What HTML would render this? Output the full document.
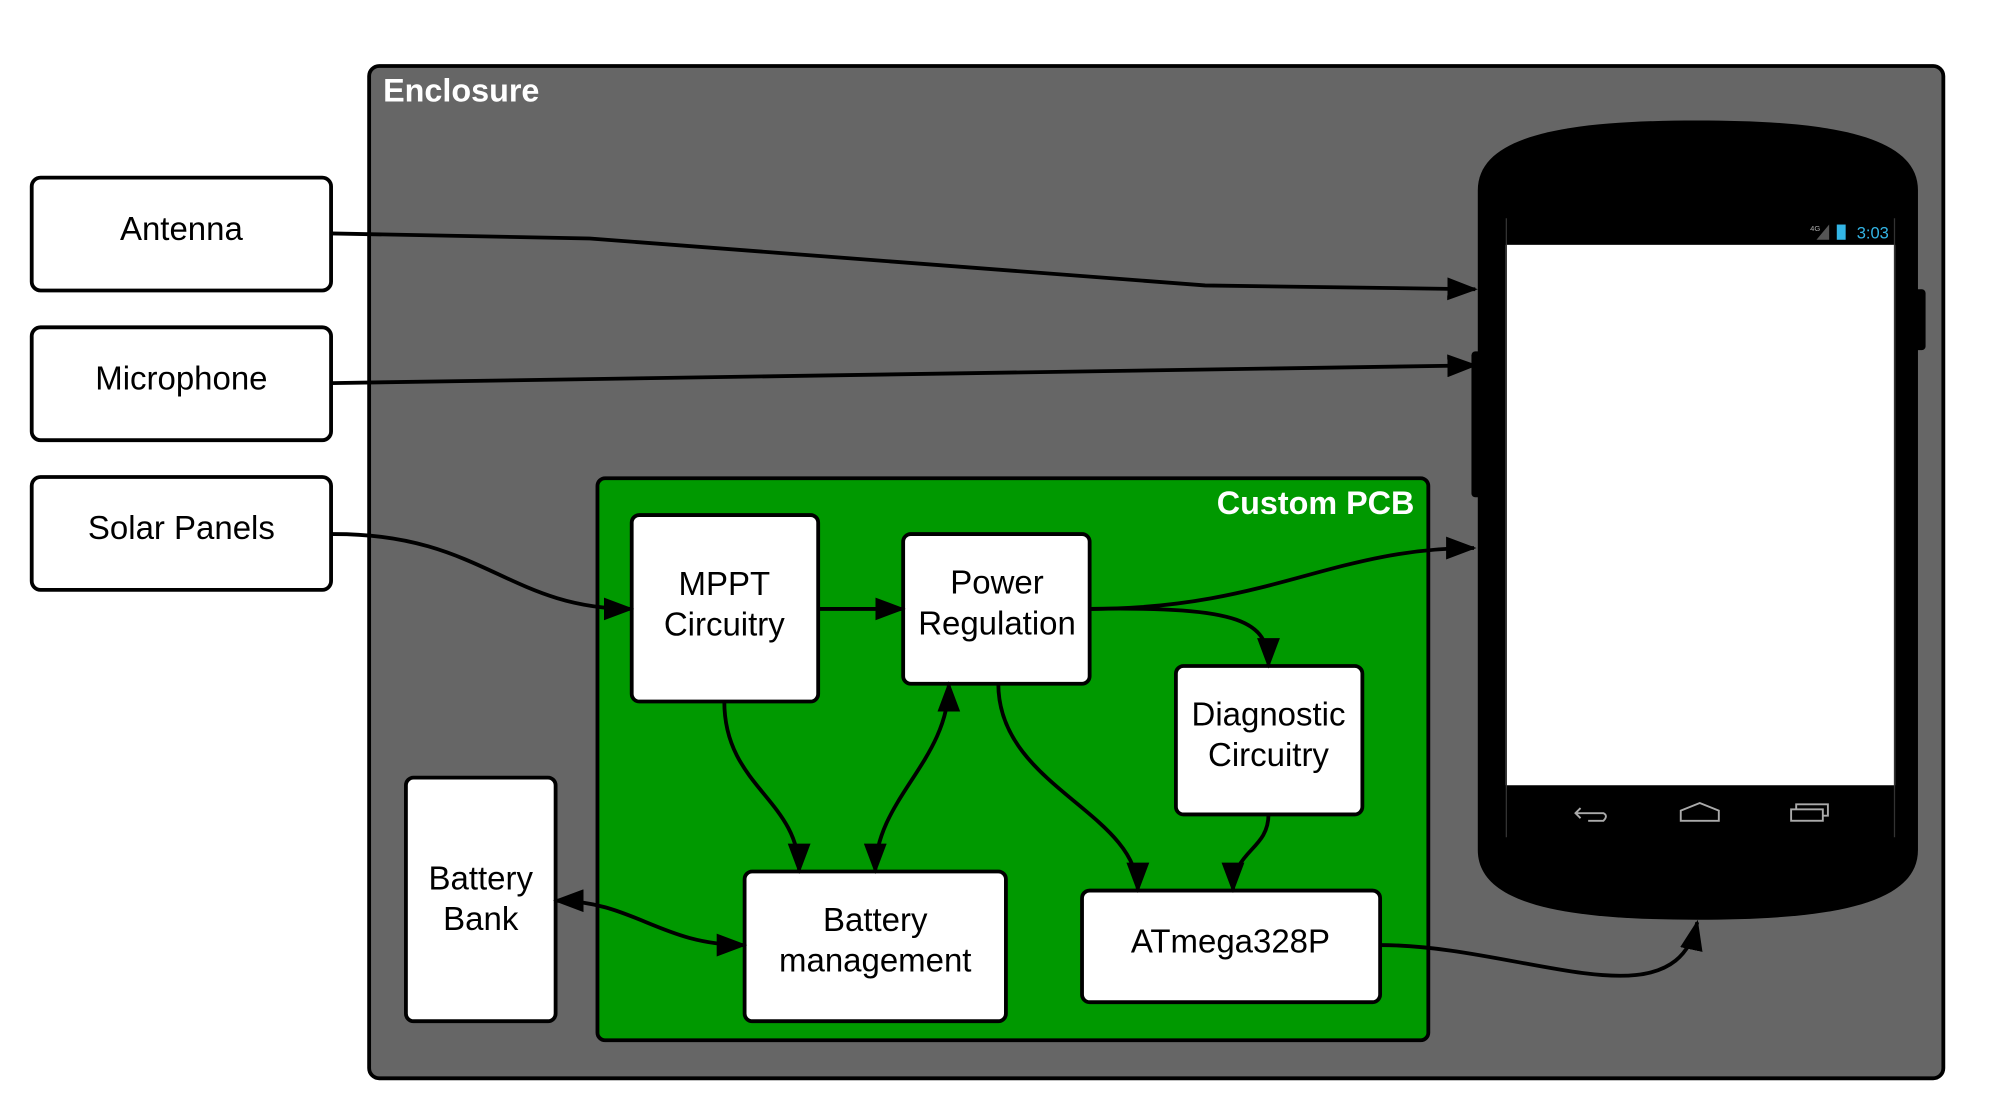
<!DOCTYPE html>
<html><head><style>html,body{margin:0;padding:0;background:#fff;}svg{display:block}</style></head>
<body>
<svg width="1989" height="1110" viewBox="0 0 1568 875" preserveAspectRatio="none" xmlns="http://www.w3.org/2000/svg" font-family="Liberation Sans, sans-serif">
<defs>
<marker id="a" markerWidth="24" markerHeight="18" refX="22" refY="9" orient="auto-start-reverse" markerUnits="userSpaceOnUse">
<path d="M0,0 L24,9 L0,18 Z" fill="#000"/>
</marker>
</defs>
<rect x="291" y="52" width="1241" height="798" rx="8" fill="#666" stroke="#000" stroke-width="3"/>
<text x="302" y="80" font-size="25.5" font-weight="bold" fill="#fff">Enclosure</text>

<g fill="#fff" stroke="#000" stroke-width="3">
<rect x="25" y="140" width="236" height="89" rx="7"/>
<rect x="25" y="258" width="236" height="89" rx="7"/>
<rect x="25" y="376" width="236" height="89" rx="7"/>
</g>
<g font-size="26" text-anchor="middle" fill="#000">
<text x="143" y="189">Antenna</text>
<text x="143" y="307">Microphone</text>
<text x="143" y="425">Solar Panels</text>
</g>

<!-- phone -->
<rect x="1160" y="277" width="8" height="115" rx="3" fill="#000"/>
<rect x="1509" y="228" width="9" height="48" rx="3" fill="#000"/>
<path d="M1165,150 C1165,105 1240,95 1338,95 C1436,95 1512,105 1512,150 L1512,670 C1512,715 1436,725 1338,725 C1240,725 1165,715 1165,670 Z" fill="#000"/>
<rect x="1187" y="193" width="307" height="426" fill="#fff"/>
<line x1="1187.5" y1="172" x2="1187.5" y2="660" stroke="#333" stroke-width="1"/>
<line x1="1493.5" y1="172" x2="1493.5" y2="660" stroke="#333" stroke-width="1"/>
<text x="1489" y="188" font-size="13" fill="#33b5e5" text-anchor="end">3:03</text>
<rect x="1448" y="177" width="7" height="12" fill="#33b5e5"/>
<path d="M1432,189 L1442,177 L1442,189 Z" fill="#555"/>
<text x="1427" y="182" font-size="6" fill="#aaa">4G</text>
<g fill="none" stroke="#aaa" stroke-width="1.5">
<path d="M1246,637 L1242,641 L1246,645 M1242,641 L1264,641 Q1268,643 1264,647 L1252,647"/>
<path d="M1325,647 L1325,639 L1340,633 L1355,639 L1355,647 Z"/>
<rect x="1412" y="638" width="25" height="9"/><path d="M1416,638 L1416,634 L1441,634 L1441,643 L1437,643"/>
</g>

<!-- PCB -->
<rect x="471" y="377" width="655" height="443" rx="6" fill="#009900" stroke="#000" stroke-width="3"/>
<text x="1115" y="405" font-size="25.5" font-weight="bold" fill="#fff" text-anchor="end">Custom PCB</text>

<g fill="#fff" stroke="#000" stroke-width="3">
<rect x="498" y="406" width="147" height="147" rx="6"/>
<rect x="712" y="421" width="147" height="118" rx="6"/>
<rect x="927" y="525" width="147" height="117" rx="6"/>
<rect x="587" y="687" width="206" height="118" rx="6"/>
<rect x="853" y="702" width="235" height="88" rx="6"/>
<rect x="320" y="613" width="118" height="192" rx="6"/>
</g>
<g font-size="26" text-anchor="middle" fill="#000">
<text x="571" y="469">MPPT</text><text x="571" y="501">Circuitry</text>
<text x="786" y="468">Power</text><text x="786" y="500">Regulation</text>
<text x="1000" y="572">Diagnostic</text><text x="1000" y="604">Circuitry</text>
<text x="690" y="734">Battery</text><text x="690" y="766">management</text>
<text x="970" y="751">ATmega328P</text>
<text x="379" y="701">Battery</text><text x="379" y="733">Bank</text>
</g>

<g fill="none" stroke="#000" stroke-width="3">
<path d="M261,184 L465,188 L950,225 L1163,228" marker-end="url(#a)"/>
<path d="M261,302 L1163,288" marker-end="url(#a)"/>
<path d="M261,421 C380,420 400,480 498,480" marker-end="url(#a)"/>
<path d="M645,480 L712,480" marker-end="url(#a)"/>
<path d="M859,480 C1000,480 1050,432 1162,432" marker-end="url(#a)"/>
<path d="M859,480 C980,478 1000,490 1000,525" marker-end="url(#a)"/>
<path d="M571,553 C571,620 630,630 630,687" marker-end="url(#a)"/>
<path d="M748,539 C748,600 690,630 690,687" marker-start="url(#a)" marker-end="url(#a)"/>
<path d="M787,539 C787,620 897,640 897,702" marker-end="url(#a)"/>
<path d="M1000,642 C1000,670 972,670 972,702" marker-end="url(#a)"/>
<path d="M438,710 C500,710 520,745 587,745" marker-start="url(#a)" marker-end="url(#a)"/>
<path d="M1088,745 C1200,745 1320,810 1338,727" marker-end="url(#a)"/>
</g>
</svg>
</body></html>
